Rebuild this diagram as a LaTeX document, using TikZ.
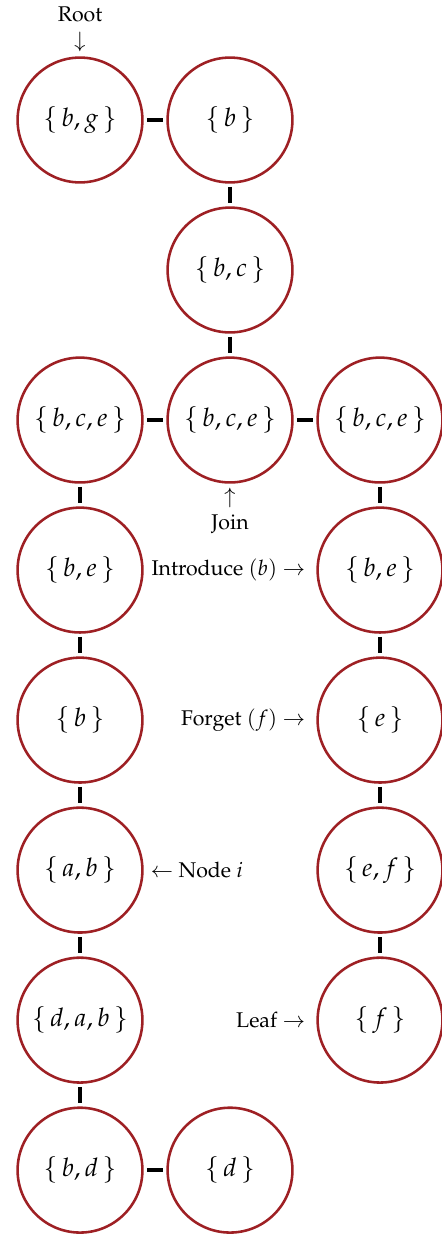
\documentclass[tikz,border=0pt]{standalone}
\usepackage[T1]{fontenc}
\usepackage{mathpazo}
\usepackage{xcolor}
\usepackage{amsmath}
\usepackage{tikz}
\usetikzlibrary{positioning}
\definecolor{bagred}{RGB}{158,32,36}
\tikzset{
  bag/.style={circle, draw=bagred, line width=1.2pt,
    minimum size=2.06cm, inner sep=0pt, font=\large},
  link/.style={line width=1.6pt, color=black,
    shorten <=1.5pt, shorten >=1.5pt},
  note/.style={align=center, inner sep=1pt, font=\normalsize}
}
\newcommand{\bagset}[1]{$\{\,#1\,\}$}

\begin{document}
\begin{tikzpicture}[node distance=0.373cm and 0.373cm]
  \useasboundingbox (-1.32,1.98) rectangle (5.97,-18.38);

  % Top of the tree
  \node[bag] (bg) at (0,0) {\bagset{b, g}};
  \node[bag, right=of bg] (b) {\bagset{b}};
  \node[bag, below=of b] (bc) {\bagset{b, c}};

  % Join level
  \node[bag, below=of bc] (bcejoin) {\bagset{b, c, e}};
  \node[bag, left=of bcejoin] (bceleft) {\bagset{b, c, e}};
  \node[bag, right=of bcejoin] (bceright) {\bagset{b, c, e}};

  % Left branch
  \node[bag, below=of bceleft] (beleft) {\bagset{b, e}};
  \node[bag, below=of beleft] (bleft) {\bagset{b}};
  \node[bag, below=of bleft] (ab) {\bagset{a, b}};
  \node[bag, below=of ab] (dab) {\bagset{d, a, b}};
  \node[bag, below=of dab] (bd) {\bagset{b, d}};
  \node[bag, right=of bd] (d) {\bagset{d}};

  % Right branch
  \node[bag, below=of bceright] (beright) {\bagset{b, e}};
  \node[bag, below=of beright] (e) {\bagset{e}};
  \node[bag, below=of e] (ef) {\bagset{e, f}};
  \node[bag, below=of ef] (f) {\bagset{f}};

  % Annotations
  \node[note, above=1pt of bg] (root) {Root\\$\downarrow$};
  \node[note, below=1pt of bcejoin] (join) {$\uparrow$\\Join};
  \node[note, left=4pt of beright] (intro) {Introduce $(b)$ $\rightarrow$};
  \node[note, left=4pt of e] (forget) {Forget $(f)$ $\rightarrow$};
  \node[note, right=2pt of ab] (nodei) {$\leftarrow$ Node $i$};
  \node[note, left=4pt of f] (leaf) {Leaf $\rightarrow$};

  % Edges
  \draw[link] (bg) -- (b);
  \draw[link] (b) -- (bc);
  \draw[link] (bc) -- (bcejoin);
  \draw[link] (bceleft) -- (bcejoin);
  \draw[link] (bcejoin) -- (bceright);
  \draw[link] (bceleft) -- (beleft);
  \draw[link] (beleft) -- (bleft);
  \draw[link] (bleft) -- (ab);
  \draw[link] (ab) -- (dab);
  \draw[link] (dab) -- (bd);
  \draw[link] (bd) -- (d);
  \draw[link] (bceright) -- (beright);
  \draw[link] (beright) -- (e);
  \draw[link] (e) -- (ef);
  \draw[link] (ef) -- (f);
\end{tikzpicture}
\end{document}
